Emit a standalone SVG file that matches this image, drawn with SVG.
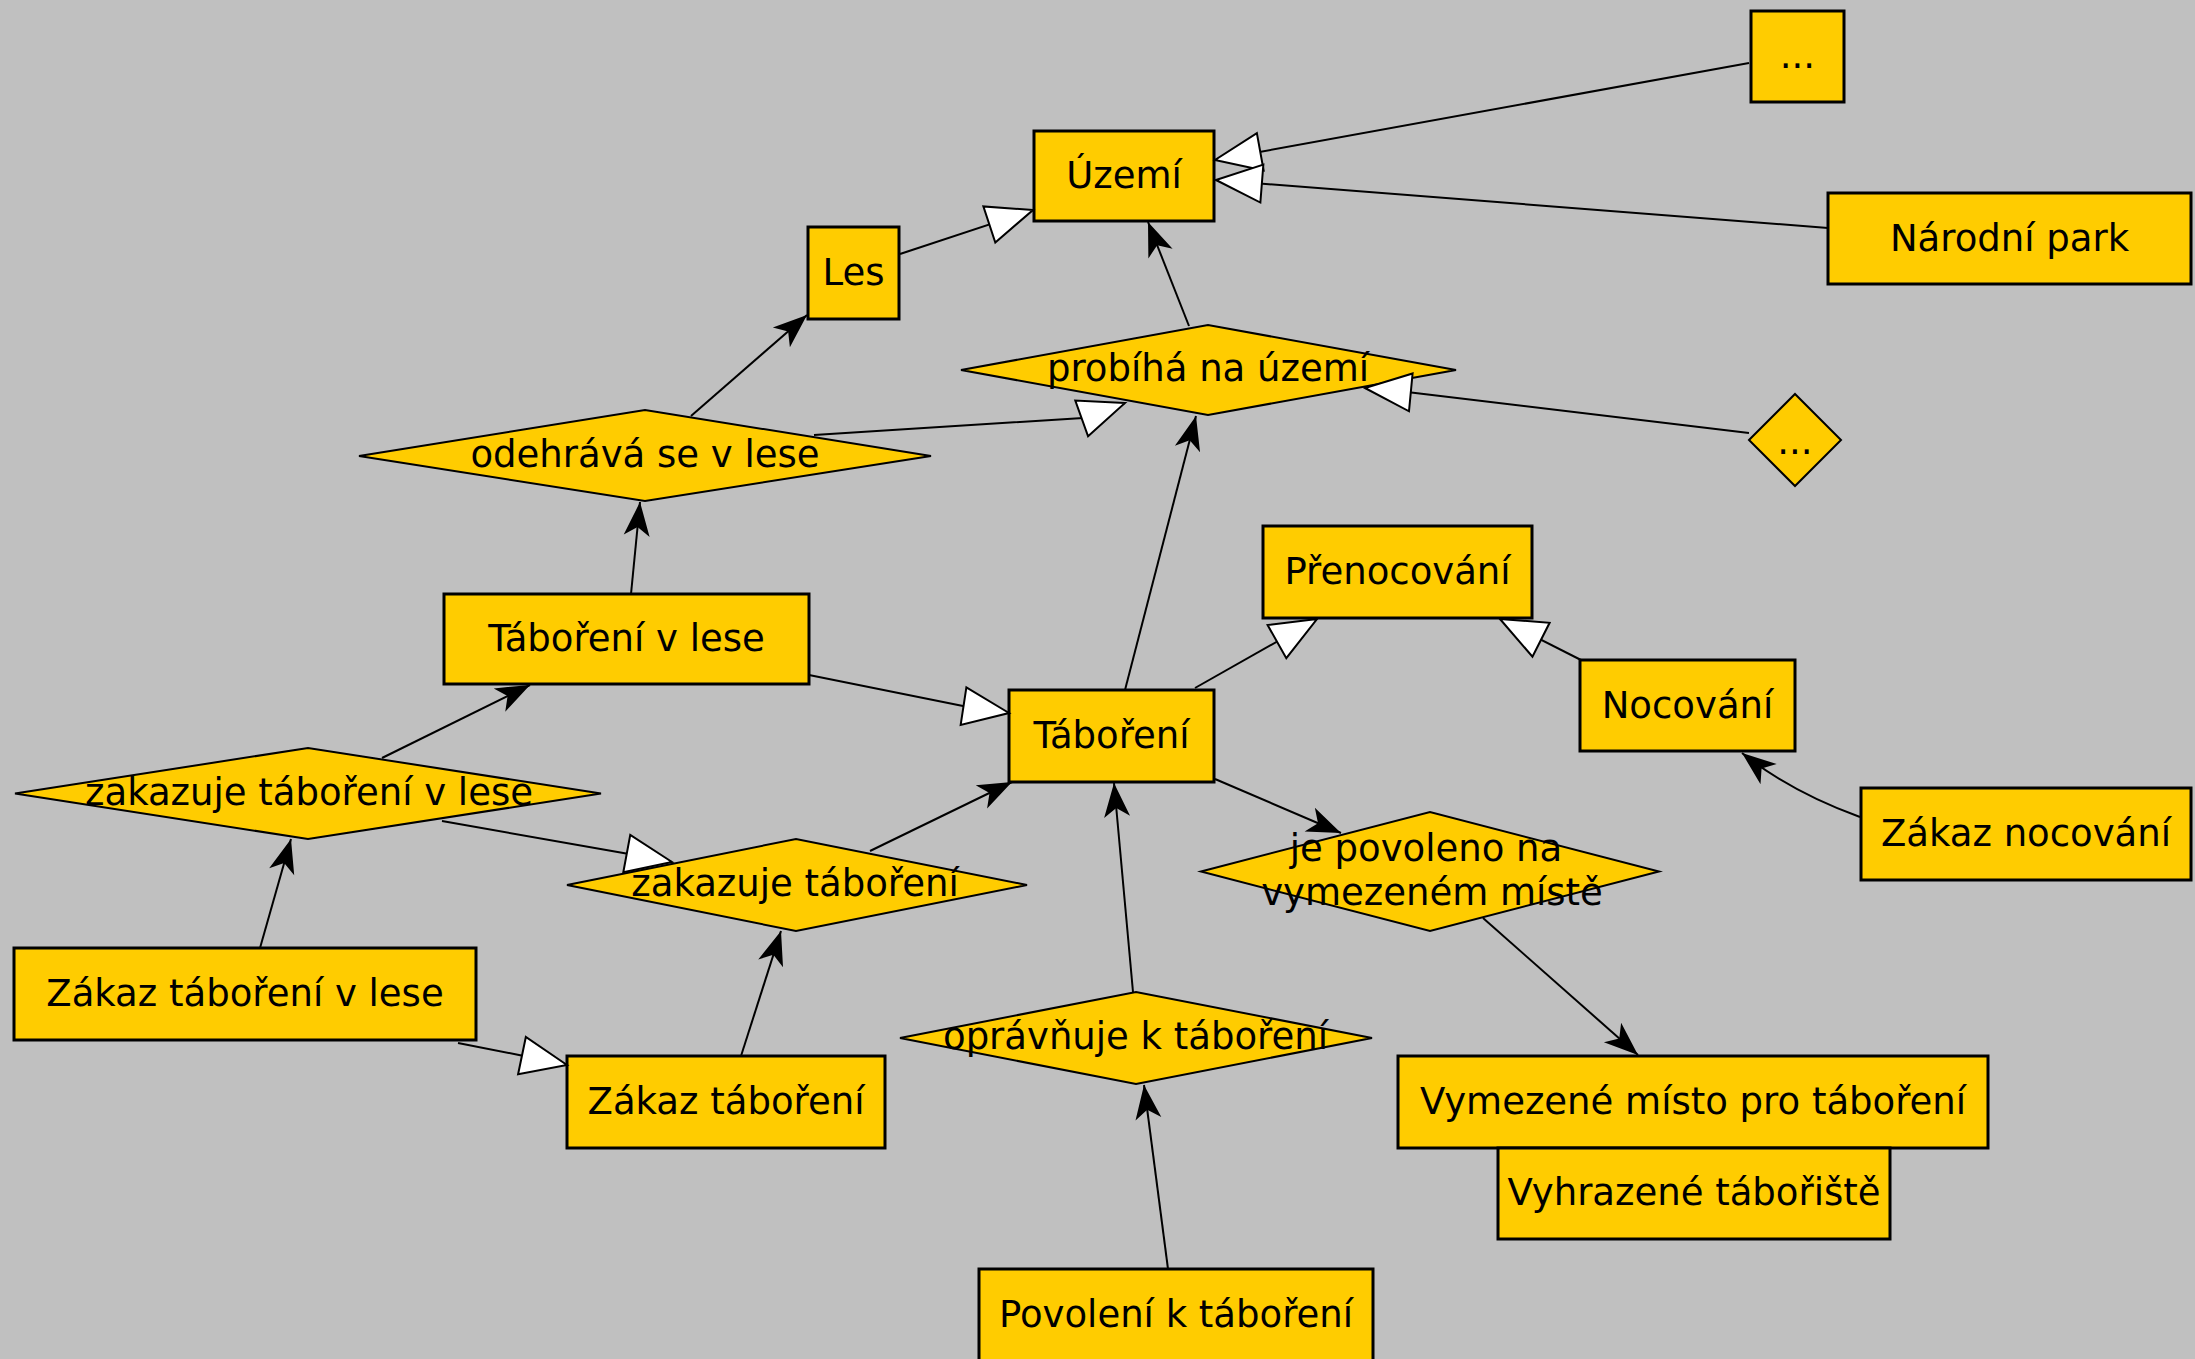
<svg xmlns="http://www.w3.org/2000/svg" width="2195" height="1359" viewBox="0 0 2195 1359">
<style>
.bg{fill:#c0c0c0}
.box{fill:#ffcc00;stroke:#000;stroke-width:3}
.dia{fill:#ffcc00;stroke:#000;stroke-width:2}
.t{font-family:"DejaVu Sans","Liberation Sans",sans-serif;font-size:37px;fill:#000;text-anchor:middle}
.e{fill:none;stroke:#000;stroke-width:2}
.f{marker-end:url(#fa)}
.h{marker-end:url(#ha)}
</style>
<defs>
<marker id="fa" markerUnits="userSpaceOnUse" markerWidth="40" markerHeight="30" viewBox="-36 -15 40 30" refX="0" refY="0" orient="auto" overflow="visible"><path d="M0,0 L-34,-13 L-25,0 L-34,13 Z" fill="#000"/></marker>
<marker id="ha" markerUnits="userSpaceOnUse" markerWidth="52" markerHeight="44" viewBox="-49 -22 52 44" refX="0" refY="0" orient="auto" overflow="visible"><path d="M0,0 L-46,-19 L-46,19 Z" fill="#fff" stroke="#000" stroke-width="2"/></marker>
</defs>
<rect class="bg" x="0" y="0" width="2195" height="1359"/>
<g id="nodes">
<g id="n-dots-rect"><rect class="box" x="1751" y="11" width="93" height="91"/><text class="t" x="1797.5" y="68">...</text></g>
<g id="n-uzemi"><rect class="box" x="1034" y="131" width="180" height="90"/><text class="t" x="1124" y="188">Území</text></g>
<g id="n-narodni-park"><rect class="box" x="1828" y="193" width="363" height="91"/><text class="t" x="2009.5" y="251">Národní park</text></g>
<g id="n-les"><rect class="box" x="808" y="227" width="91" height="92"/><text class="t" x="853.5" y="285">Les</text></g>
<g id="n-probiha"><polygon class="dia" points="961,370 1208,325 1456,370 1208,415"/><text class="t" x="1208" y="381">probíhá na území</text></g>
<g id="n-dots-dia"><polygon class="dia" points="1749,440 1795,394 1841,440 1795,486"/><text class="t" x="1795" y="454">...</text></g>
<g id="n-odehrava"><polygon class="dia" points="359,456 645,410 931,456 645,501"/><text class="t" x="645" y="467">odehrává se v lese</text></g>
<g id="n-taboreni-v-lese"><rect class="box" x="444" y="594" width="365" height="90"/><text class="t" x="626.5" y="651">Táboření v lese</text></g>
<g id="n-prenocovani"><rect class="box" x="1263" y="526" width="269" height="92"/><text class="t" x="1397.5" y="584">Přenocování</text></g>
<g id="n-nocovani"><rect class="box" x="1580" y="660" width="215" height="91"/><text class="t" x="1687.5" y="718">Nocování</text></g>
<g id="n-taboreni"><rect class="box" x="1009" y="690" width="205" height="92"/><text class="t" x="1111.5" y="748">Táboření</text></g>
<g id="n-zakaz-nocovani"><rect class="box" x="1861" y="788" width="330" height="92"/><text class="t" x="2026" y="846">Zákaz nocování</text></g>
<g id="n-zakazuje-v-lese"><polygon class="dia" points="15,793.5 308,748 601,793.5 308,839"/><text class="t" x="309" y="805">zakazuje táboření v lese</text></g>
<g id="n-zakazuje"><polygon class="dia" points="567,885 796,839 1027,885 796,931"/><text class="t" x="795" y="896">zakazuje táboření</text></g>
<g id="n-je-povoleno"><polygon class="dia" points="1201,871.5 1430,812 1659,871.5 1430,931"/><text class="t" x="1426" y="861">je povoleno na</text><text class="t" x="1432" y="905">vymezeném místě</text></g>
<g id="n-zakaz-v-lese"><rect class="box" x="14" y="948" width="462" height="92"/><text class="t" x="245" y="1006">Zákaz táboření v lese</text></g>
<g id="n-zakaz"><rect class="box" x="567" y="1056" width="318" height="92"/><text class="t" x="726" y="1114">Zákaz táboření</text></g>
<g id="n-opravnuje"><polygon class="dia" points="900,1038 1136,992 1372,1038 1136,1084"/><text class="t" x="1135.5" y="1049">oprávňuje k táboření</text></g>
<g id="n-vymezene"><rect class="box" x="1398" y="1056" width="590" height="92"/><text class="t" x="1693" y="1114">Vymezené místo pro táboření</text></g>
<g id="n-vyhrazene"><rect class="box" x="1498" y="1148" width="392" height="91"/><text class="t" x="1694" y="1205">Vyhrazené tábořiště</text></g>
<g id="n-povoleni"><rect class="box" x="979" y="1269" width="394" height="92"/><text class="t" x="1176" y="1327">Povolení k táboření</text></g>
</g>
<g id="connectors">
<path class="e h" d="M1749,63 L1215,160"/>
<path class="e h" d="M1828,228 L1216,180"/>
<path class="e h" d="M900,254 L1033,210"/>
<path class="e f" d="M1189,326 L1148,222"/>
<path class="e f" d="M691,416 L807,315"/>
<path class="e h" d="M814,435 L1083,418 L1125,403"/>
<path class="e h" d="M1749,433 L1407,392 L1365,388"/>
<path class="e f" d="M631,594 L640,502"/>
<path class="e f" d="M1125,690 L1196,416"/>
<path class="e h" d="M1195,688 L1317,619"/>
<path class="e h" d="M1581,660 L1500,619"/>
<path class="e h" d="M809,675 L963,706 L1009,713"/>
<path class="e f" d="M382,758 L530,685"/>
<path class="e h" d="M442,821 L629,854 L672,862"/>
<path class="e f" d="M870,851 L1012,782"/>
<path class="e f" d="M1215,779 L1341,833"/>
<path class="e f" d="M1483,918 L1638,1055"/>
<path class="e f" d="M1860,817 Q1791,792 1742,753"/>
<path class="e f" d="M260,948 L291,839"/>
<path class="e h" d="M458,1043 L519,1055 L567,1065"/>
<path class="e f" d="M741,1056 L781,931"/>
<path class="e f" d="M1133,992 L1114,783"/>
<path class="e f" d="M1168,1269 L1144,1085"/>
</g>
</svg>
